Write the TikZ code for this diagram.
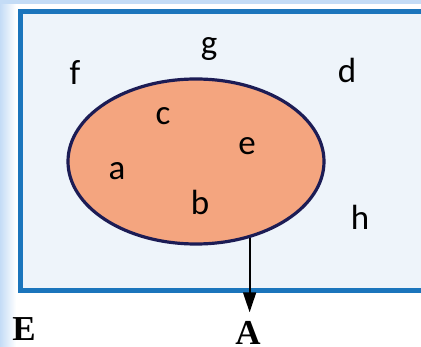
\documentclass[tikz,border=0pt]{standalone}
\usepackage{fontspec}
\setmainfont{Liberation Serif}
\newfontfamily\lblfont{Carlito}
\usetikzlibrary{arrows.meta, positioning, shapes.geometric}
\definecolor{cframe}{HTML}{1B75BC}
\definecolor{cpaper}{HTML}{EEF4FA}
\definecolor{cset}{HTML}{F4A57F}
\definecolor{cedge}{HTML}{1C1C55}
\definecolor{cside}{HTML}{C4DCF6}
\tikzset{
  every picture/.style={line width=1.2pt},
  elem/.style={font=\lblfont\fontsize{35}{35}\selectfont, anchor=base, inner sep=0pt},
  setname/.style={font=\bfseries\fontsize{35}{35}\selectfont, anchor=base, inner sep=0pt},
  setbox/.style={ellipse, draw=cedge, fill=cset, line width=3.2pt, minimum width=256pt, minimum height=165pt, inner sep=0pt},
  arrow/.style={-{Triangle[length=20pt, width=13pt]}, line width=1.8pt},
}
\begin{document}
\begin{tikzpicture}[x=1pt,y=-1pt]
  \useasboundingbox (0,0) rectangle (421,347);
  % page background
  \fill[white] (0,0) rectangle (421,347);
  \shade[left color=cside, right color=white] (0,0) rectangle (16,347);
  \fill[cside] (0,0) rectangle (421,4);
  % universe E
  \draw[cframe, fill=cpaper, line width=5pt] (20,11.5) rectangle (440,291);
  % set A
  \node[setbox] (ell) at (196,161.5) {};
  \foreach \n/\x/\y in {g/209/55, f/75/85, d/347/83, c/163/125, e/247/155, a/117/180, b/200/215, h/360/230}
    \node[elem] (el\n) at (\x,\y) {\n};
  \node[setname] (E) at (24,341) {E};
  \node[setname] (A) at (248,345) {A};
  \draw[arrow, shorten >=9pt] (ell.-55.4) -- (ell.-55.4 |- A.north);
\end{tikzpicture}
\end{document}
